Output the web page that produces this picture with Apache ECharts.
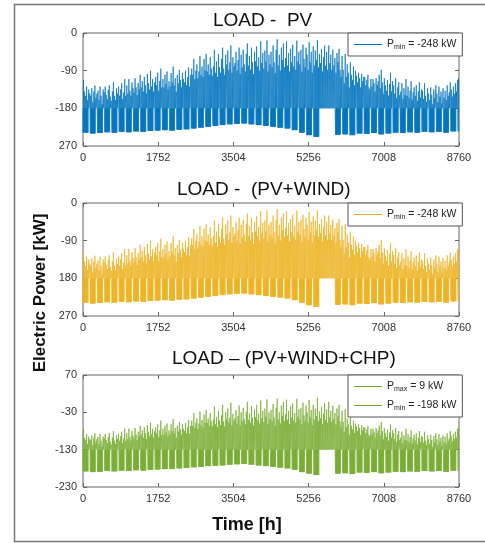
<!DOCTYPE html>
<html>
<head>
<meta charset="utf-8">
<script src="https://cdn.jsdelivr.net/npm/echarts@6/dist/echarts.min.js"></script>
<style>
  html, body { margin: 0; padding: 0; background: #fff; }
  #chart { width: 485px; height: 543px; }
</style>
</head>
<body>
<div id="chart"></div>
<script>
// x axis (hours of the year)
var hourTicks = [0, 1752, 3504, 5256, 7008, 8760];

// y ticks as printed in the figure
var pvTicks = [0, -90, -180, -270];
var pvLabels = ['0', '-90', '-180', '270'];
var windTicks = [0, -90, -180, -270];
var windLabels = ['0', '-90', '180', '270'];
var chpTicks = [70, -30, -130, -230];
var chpLabels = ['70', '-30', '-130', '-230'];

// flat night/weekend level of each curve [kW]
var basePv = -180;
var baseChp = -130;

// daily peak (highest hourly value) of LOAD - PV [kW], 365 days
var peakPv = [
  -112,-140,-150,-128,-160,-135,-145, -150,-132,-165,-140,-126,-155,-145,
  -138,-160,-128,-150,-170,-135,-142, -128,-148,-158,-136,-125,-152,-162,
  -140,-118,-150,-160,-132,-145,-128, -150,-135,-120,-158,-142,-110,-150,
  -125,-145,-110,-138,-150,-118,-132, -142,-108,-130,-148,-120,-135,-100,
  -130,-115,-140,-105,-125,-145,-98,  -120,-135,-90,-128,-110,-140,-118,
  -105,-125,-95,-138,-115,-85,-130,   -110,-130,-100,-122,-92,-135,-115,
  -128,-96,-118,-80,-125,-108,-140,   -100,-120,-88,-112,-130,-95,-110,
  -118,-90,-125,-105,-82,-128,-100,   -85,-100,-62,-110,-90,-75,-108,
  -92,-55,-100,-80,-105,-62,-90,      -50,-92,-75,-100,-58,-85,-102,
  -80,-40,-95,-68,-105,-50,-82,       -95,-62,-35,-85,-100,-52,-75,
  -42,-88,-70,-30,-95,-58,-80,        -72,-45,-90,-65,-35,-98,-52,
  -82,-40,-75,-92,-50,-25,-78,        -55,-88,-35,-70,-98,-45,-68,
  -32,-80,-58,-90,-20,-72,-48,        -85,-42,-68,-18,-92,-52,-75,
  -45,-82,-30,-70,-96,-40,-15,        -78,-52,-90,-35,-65,-25,-82,
  -60,-20,-78,-48,-92,-38,-70,        -28,-80,-55,-88,-18,-68,-45,
  -75,-40,-92,-28,-62,-82,-35,        -52,-88,-22,-70,-45,-95,-32,
  -78,-42,-65,-17,-82,-50,-72,        -38,-92,-58,-30,-78,-45,-88,
  -30,-72,-52,-88,-40,-78,-60,        -95,-48,-70,-38,-88,-105,-55,
  -88,-120,-50,-105,-75,-95,-130,     -70,-100,-112,-80,-125,-90,-102,
  -118,-95,-108,-130,-98,-115,-105,   -105,-125,-112,-100,-130,-135,-110,
  -128,-110,-120,-140,-108,-125,-115, -100,-132,-88,-118,-145,-108,-125,
  -138,-112,-150,-122,-95,-140,-115,  -125,-145,-108,-155,-130,-118,-148,
  -140,-120,-158,-132,-148,-110,-150, -128,-155,-138,-115,-160,-142,-130,
  -150,-125,-162,-140,-118,-155,-135, -138,-158,-120,-150,-165,-132,-145,
  -160,-130,-148,-170,-135,-155,-125, -145,-165,-128,-152,-140,-168,-132,
  -155,-138,-160,-125,-150,-142,-118, -135,-152,-128,-145,-120,-140,-112,
  -108
];
// weekday night minimum per week of LOAD - PV [kW] (weeks 33-34: no dip)
var lowPv = [
  -238,-240,-239,-237,-238,-236,-237,-235,-236,-234,
  -233,-232,-233,-231,-230,-228,-226,-224,-222,-220,
  -218,-217,-216,-218,-220,-222,-224,-226,-228,-232,
  -238,-244,-248,-180,-180,-243,-242,-244,-240,-241,
  -239,-242,-240,-238,-239,-237,-238,-236,-237,-236,
  -238,-235
];

// LOAD - (PV+WIND): same curve as LOAD - PV in the figure
var peakPvWind = peakPv;
var lowPvWind = lowPv;

// daily peak of LOAD - (PV+WIND+CHP) [kW]
var peakChp = [
  -75,-98,-105,-88,-115,-95,-102,  -105,-92,-118,-98,-86,-110,-102,
  -96,-115,-88,-106,-122,-95,-100, -88,-104,-112,-96,-85,-108,-116,
  -98,-80,-106,-114,-92,-102,-88,  -106,-94,-82,-112,-100,-74,-106,
  -86,-102,-74,-96,-106,-80,-92,   -100,-72,-90,-104,-82,-94,-66,
  -90,-78,-98,-70,-86,-102,-64,    -82,-94,-58,-88,-74,-98,-80,
  -70,-86,-62,-96,-78,-52,-90,     -74,-90,-66,-84,-60,-94,-78,
  -88,-62,-80,-48,-86,-72,-98,     -66,-82,-56,-76,-90,-62,-74,
  -80,-58,-86,-70,-50,-88,-66,     -52,-66,-32,-72,-58,-46,-74,
  -60,-28,-64,-50,-70,-36,-58,     -24,-58,-46,-66,-32,-54,-68,
  -50,-14,-62,-42,-70,-26,-52,     -64,-38,-10,-54,-68,-30,-48,
  -20,-58,-44,-4,-64,-34,-52,      -46,-24,-60,-40,-12,-66,-30,
  -54,-18,-48,-62,-28,-2,-50,      -32,-58,-14,-44,-66,-22,-42,
  -10,-52,-34,-60,2,-46,-26,       -56,-20,-42,5,-62,-30,-48,
  -24,-54,-8,-44,-66,-18,7,        -50,-30,-60,-12,-40,-2,-54,
  -36,4,-50,-26,-62,-14,-44,       -6,-52,-32,-58,6,-42,-22,
  -48,-18,-62,-4,-38,-54,-12,      -30,-58,3,-44,-24,-64,-10,
  -50,-20,-40,9,-54,-28,-46,       -16,-62,-34,-6,-50,-22,-58,
  -2,-44,-26,-56,-12,-48,-32,      -62,-20,-40,-10,-54,-70,-26,
  -56,-82,-22,-70,-46,-62,-90,     -44,-66,-76,-52,-86,-60,-68,
  -80,-62,-72,-90,-64,-78,-70,     -70,-86,-76,-66,-90,-94,-74,
  -88,-74,-82,-98,-72,-86,-78,     -66,-92,-56,-80,-102,-72,-86,
  -96,-76,-106,-84,-62,-98,-78,    -86,-102,-72,-110,-90,-80,-104,
  -98,-82,-112,-92,-104,-74,-106,  -88,-110,-96,-78,-114,-100,-90,
  -106,-86,-116,-98,-80,-110,-94,  -96,-112,-82,-106,-118,-92,-102,
  -114,-90,-104,-122,-94,-110,-86, -102,-118,-88,-108,-98,-120,-92,
  -110,-96,-114,-86,-106,-100,-80, -94,-108,-88,-102,-82,-98,-74,
  -72
];
var lowChp = [
  -188,-190,-189,-187,-188,-186,-187,-185,-186,-184,
  -183,-182,-182,-180,-179,-177,-176,-174,-173,-172,
  -170,-169,-168,-170,-172,-174,-176,-178,-180,-184,
  -190,-194,-198,-130,-130,-194,-193,-195,-191,-192,
  -190,-193,-191,-189,-190,-188,-189,-187,-188,-187,
  -189,-186
];

var legendText = {
  pv: 'P{s|min} = -248 kW',
  pvwind: 'P{s|min} = -248 kW',
  chpMax: 'P{s|max} = 9 kW',
  chpMin: 'P{s|min} = -198 kW'
};

// hourly profile of a day: night dips on weekdays, one midday peak
function buildCurve(peaks, lows, base) {
    var pts = [];
    for (var d = 0; d < peaks.length; d++) {
        var h0 = d * 24;
        var wk = Math.min(Math.floor(d / 7), lows.length - 1);
        var low = (d % 7 < 5) ? lows[wk] : base;
        pts.push([h0, base], [h0 + 3, low], [h0 + 7, base],
                 [h0 + 13, peaks[d]], [h0 + 17, base], [h0 + 21, low]);
    }
    return pts;
}

var font = 'Liberation Sans, Arial, sans-serif';
var axisGray = '#666';
var grids = [
    { left: 83, top: 33, width: 376, height: 113 },
    { left: 83, top: 203, width: 376, height: 113 },
    { left: 83, top: 375, width: 376, height: 112 }
];
var yDefs = [
    { ticks: pvTicks, labels: pvLabels, min: -270, max: 0 },
    { ticks: windTicks, labels: windLabels, min: -270, max: 0 },
    { ticks: chpTicks, labels: chpLabels, min: -230, max: 70 }
];

var xAxes = [], yAxes = [];
grids.forEach(function (g, i) {
    g.show = true;
    g.borderColor = axisGray;
    g.borderWidth = 1;
    g.backgroundColor = '#fff';
    // bottom axis with labels, top axis with ticks only
    ['bottom', 'top'].forEach(function (pos) {
        xAxes.push({
            type: 'value', gridIndex: i, position: pos,
            min: 0, max: 8760,
            axisLine: { show: false, onZero: false },
            splitLine: { show: false },
            axisTick: { show: true, inside: true, length: 4, customValues: hourTicks,
                        lineStyle: { color: axisGray } },
            axisLabel: { show: pos === 'bottom', customValues: hourTicks, margin: 6,
                         fontFamily: font, fontSize: 11, color: '#333',
                         formatter: function (v) { return String(v); } }
        });
    });
    var yd = yDefs[i];
    ['left', 'right'].forEach(function (pos) {
        yAxes.push({
            type: 'value', gridIndex: i, position: pos,
            min: yd.min, max: yd.max,
            axisLine: { show: false, onZero: false },
            splitLine: { show: false },
            axisTick: { show: true, inside: true, length: 4, customValues: yd.ticks,
                        lineStyle: { color: axisGray } },
            axisLabel: { show: pos === 'left', customValues: yd.ticks, margin: 6,
                         fontFamily: font, fontSize: 11, color: '#333',
                         formatter: function (v) {
                             var k = yd.ticks.indexOf(v);
                             return k >= 0 ? yd.labels[k] : '';
                         } }
        });
    });
});

function lineSeries(name, idx, color, data) {
    return {
        name: name, type: 'line',
        xAxisIndex: idx * 2, yAxisIndex: idx * 2,
        data: data, showSymbol: false, symbol: 'none',
        sampling: null, animation: false, silent: true,
        lineStyle: { color: color, width: 0.7 },
        itemStyle: { color: color }
    };
}

var blue = '#0072BD', orange = '#EDB120', green = '#77AC30';
var series = [
    lineSeries('pv', 0, blue, buildCurve(peakPv, lowPv, basePv)),
    lineSeries('pvwind', 1, orange, buildCurve(peakPvWind, lowPvWind, basePv)),
    lineSeries('chpMax', 2, green, buildCurve(peakChp, lowChp, baseChp)),
    lineSeries('chpMin', 2, green, [])
];

// lighter shade above the base level, deeper shade below (as in the figure)
function shade(seriesIndex, base, yMin, yMax, upper, lower) {
    return {
        show: false, type: 'piecewise', seriesIndex: seriesIndex, dimension: 1,
        pieces: [
            { gt: base, lte: yMax, color: upper },
            { gte: yMin, lte: base, color: lower }
        ],
        outOfRange: { color: lower }
    };
}

function legendBox(names, top) {
    return {
        data: names, left: 348, top: top, orient: 'vertical',
        icon: 'rect', itemWidth: 28, itemHeight: 1, itemGap: 6,
        padding: [5, 6, 5, 6],
        borderColor: '#555', borderWidth: 1, borderRadius: 0,
        backgroundColor: '#fff', selectedMode: false,
        formatter: function (n) { return legendText[n]; },
        textStyle: {
            fontFamily: font, fontSize: 10.5, color: '#222', lineHeight: 12,
            rich: { s: { fontSize: 7, lineHeight: 12, padding: [6, 0, 0, 0], fontFamily: font, color: '#222' } }
        }
    };
}

var titleStyle = { fontFamily: font, fontSize: 19, fontWeight: 'normal', color: '#111' };
var option = {
    backgroundColor: '#fff',
    animation: false,
    title: [
        { text: 'LOAD -  PV', left: 213, top: 11, padding: 0, textStyle: titleStyle },
        { text: 'LOAD -  (PV+WIND)', left: 177, top: 180, padding: 0, textStyle: titleStyle },
        { text: 'LOAD \u2013 (PV+WIND+CHP)', left: 172, top: 349, padding: 0, textStyle: titleStyle }
    ],
    legend: [
        legendBox(['pv'], 33),
        legendBox(['pvwind'], 203),
        legendBox(['chpMax', 'chpMin'], 375)
    ],
    visualMap: [
        shade(0, basePv, -270, 0, '#3a8ed2', '#0f66b3'),
        shade(1, basePv, -270, 0, '#f2bb3c', '#eaa90c'),
        shade(2, baseChp, -230, 70, '#88bb4c', '#6ca526')
    ],
    grid: grids,
    xAxis: xAxes,
    yAxis: yAxes,
    series: series,
    graphic: [
        { type: 'rect', shape: { x: 14.5, y: 4.5, width: 476, height: 537 },
          style: { fill: 'none', stroke: '#777', lineWidth: 1.5 }, silent: true },
        { type: 'text', x: 40, y: 293, rotation: Math.PI / 2,
          style: { text: 'Electric Power [kW]', fontFamily: font, fontSize: 17, fontWeight: 'bold',
                   fill: '#111', align: 'center', verticalAlign: 'middle' } },
        { type: 'text', x: 247, y: 525,
          style: { text: 'Time [h]', fontFamily: font, fontSize: 18, fontWeight: 'bold',
                   fill: '#111', align: 'center', verticalAlign: 'middle' } }
    ]
};

var chart = echarts.init(document.getElementById('chart'), null, { renderer: 'canvas' });
chart.setOption(option);
</script>
</body>
</html>
